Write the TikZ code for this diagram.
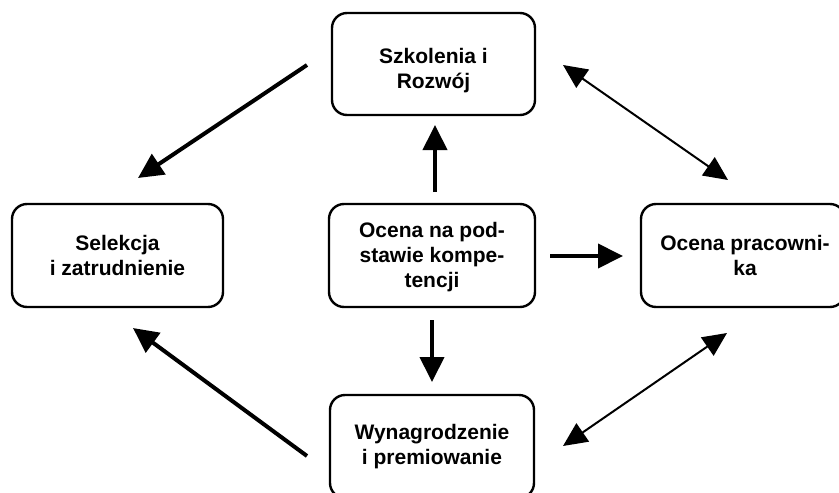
\documentclass[tikz,border=0pt]{standalone}
\usepackage{fontspec}
\setmainfont{Liberation Sans}
\usetikzlibrary{arrows.meta}
\begin{document}
\begin{tikzpicture}[x=1pt,y=-1pt,
  box/.style={draw, line width=2.4pt, rounded corners=15pt, inner sep=0pt},
  txt/.style={align=center, font=\fontsize{21}{25}\selectfont\bfseries, inner sep=0pt},
  thick arrow/.style={line width=4pt, -{Triangle[length=25pt,width=24pt]}},
  thin arrow/.style={line width=2pt, {Triangle[length=24pt,width=22pt]}-{Triangle[length=24pt,width=22pt]}}]
\useasboundingbox (0,0) rectangle (839,493);
\clip (0,0) rectangle (839,493);
% boxes
\node[box, minimum width=203pt, minimum height=102pt] (sz) at (433.5,64) {};
\node[box, minimum width=211pt, minimum height=103pt] (sel) at (117.5,255.5) {};
\node[box, minimum width=206pt, minimum height=103pt] (cen) at (432,255.5) {};
\node[box, minimum width=204pt, minimum height=103pt] (oc) at (743,255.5) {};
\node[box, minimum width=204pt, minimum height=103pt] (wyn) at (432,446.5) {};
% texts
\node[txt] (szt) at (433.5,71) {Szkolenia i\\Rozwój};
\node[txt] (selt) at (117.5,255.5) {Selekcja\\i zatrudnienie};
\node[txt] (cent) at (432,257) {Ocena na pod-\\stawie kompe-\\tencji};
\node[txt] (oct) at (745,255.5) {Ocena pracowni-\\ka};
\node[txt] (wynt) at (432,447) {Wynagrodzenie\\i premiowanie};
% arrow end points
\coordinate (a1s) at (307,65);  \coordinate (a1e) at (138,178);
\coordinate (a2s) at (435,192); \coordinate (a2e) at (435,125);
\coordinate (a3s) at (550,256); \coordinate (a3e) at (623,256);
\coordinate (a4s) at (432,320); \coordinate (a4e) at (432,382);
\coordinate (a5s) at (307,456); \coordinate (a5e) at (133,328);
\coordinate (b1s) at (563,65);  \coordinate (b1e) at (728,180);
\coordinate (b2s) at (727,333); \coordinate (b2e) at (563,446);
% arrows
\draw[thick arrow] (a1s) -- (a1e);
\draw[thick arrow] (a2s) -- (a2e);
\draw[thick arrow] (a3s) -- (a3e);
\draw[thick arrow] (a4s) -- (a4e);
\draw[thick arrow] (a5s) -- (a5e);
\draw[thin arrow] (b1s) -- (b1e);
\draw[thin arrow] (b2s) -- (b2e);
\end{tikzpicture}
\end{document}
